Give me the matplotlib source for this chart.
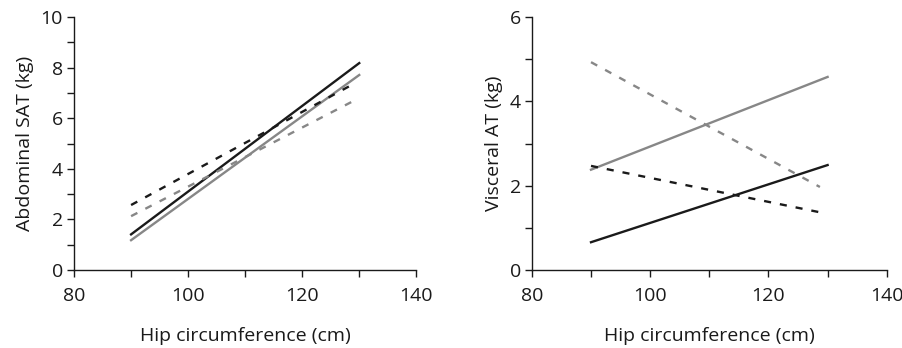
import numpy as np
from matplotlib import pyplot as plt
from matplotlib.ticker import MultipleLocator

plt.rcParams['font.family'] = ['Open Sans', 'DejaVu Sans']

# hip circumference start/end of each fitted line
hip_start = 90
hip_end_solid = 130
hip_end_dash = 128.7

black = "#1a1a1a"
gray = "#878787"

# Abdominal SAT (kg): value at start and end of each line
sat_black_solid = [1.41, 8.18]
sat_gray_solid = [1.18, 7.71]
sat_black_dash = [2.57, 7.32]
sat_gray_dash = [2.13, 6.65]

# Visceral AT (kg)
vat_gray_solid = [2.38, 4.58]
vat_black_solid = [0.66, 2.49]
vat_black_dash = [2.47, 1.37]
vat_gray_dash = [4.93, 1.97]

fig = plt.figure(figsize=(9.03, 3.48), dpi=100)
ax1 = fig.add_axes([0.082, 0.224, 0.379, 0.727])
ax2 = fig.add_axes([0.589, 0.224, 0.393, 0.727])

solid_x = [hip_start, hip_end_solid]
dash_x = [hip_start, hip_end_dash]
lw = 1.7
dash_style = (0, (3.0, 3.8))

ax1.plot(solid_x, sat_black_solid, color=black, lw=lw)
ax1.plot(solid_x, sat_gray_solid, color=gray, lw=lw)
ax1.plot(dash_x, sat_black_dash, color=black, lw=lw, linestyle=dash_style)
ax1.plot(dash_x, sat_gray_dash, color=gray, lw=lw, linestyle=dash_style)

ax2.plot(solid_x, vat_gray_solid, color=gray, lw=lw)
ax2.plot(solid_x, vat_black_solid, color=black, lw=lw)
ax2.plot(dash_x, vat_black_dash, color=black, lw=lw, linestyle=dash_style)
ax2.plot(dash_x, vat_gray_dash, color=gray, lw=lw, linestyle=dash_style)

for ax, ymax, ylabel in [(ax1, 10, "Abdominal SAT (kg)"), (ax2, 6, "Visceral AT (kg)")]:
    ax.set_xlim(80, 140)
    ax.set_ylim(0, ymax)
    ax.xaxis.set_major_locator(MultipleLocator(20))
    ax.xaxis.set_minor_locator(MultipleLocator(10))
    ax.yaxis.set_major_locator(MultipleLocator(2))
    ax.yaxis.set_minor_locator(MultipleLocator(1))
    for s in ["top", "right"]:
        ax.spines[s].set_visible(False)
    for s in ["left", "bottom"]:
        ax.spines[s].set_linewidth(1.0)
        ax.spines[s].set_color("#1a1a1a")
    ax.tick_params(which="both", direction="out", length=5, width=1.0, colors="#1a1a1a",
                   labelsize=14, pad=3)
    ax.tick_params(axis="x", pad=7)
    ax.set_xlabel("Hip circumference (cm)", fontsize=14, labelpad=16, color="#1a1a1a")
    ax.set_ylabel(ylabel, fontsize=14, labelpad=5, color="#1a1a1a")

plt.savefig("out.png", dpi=100)
